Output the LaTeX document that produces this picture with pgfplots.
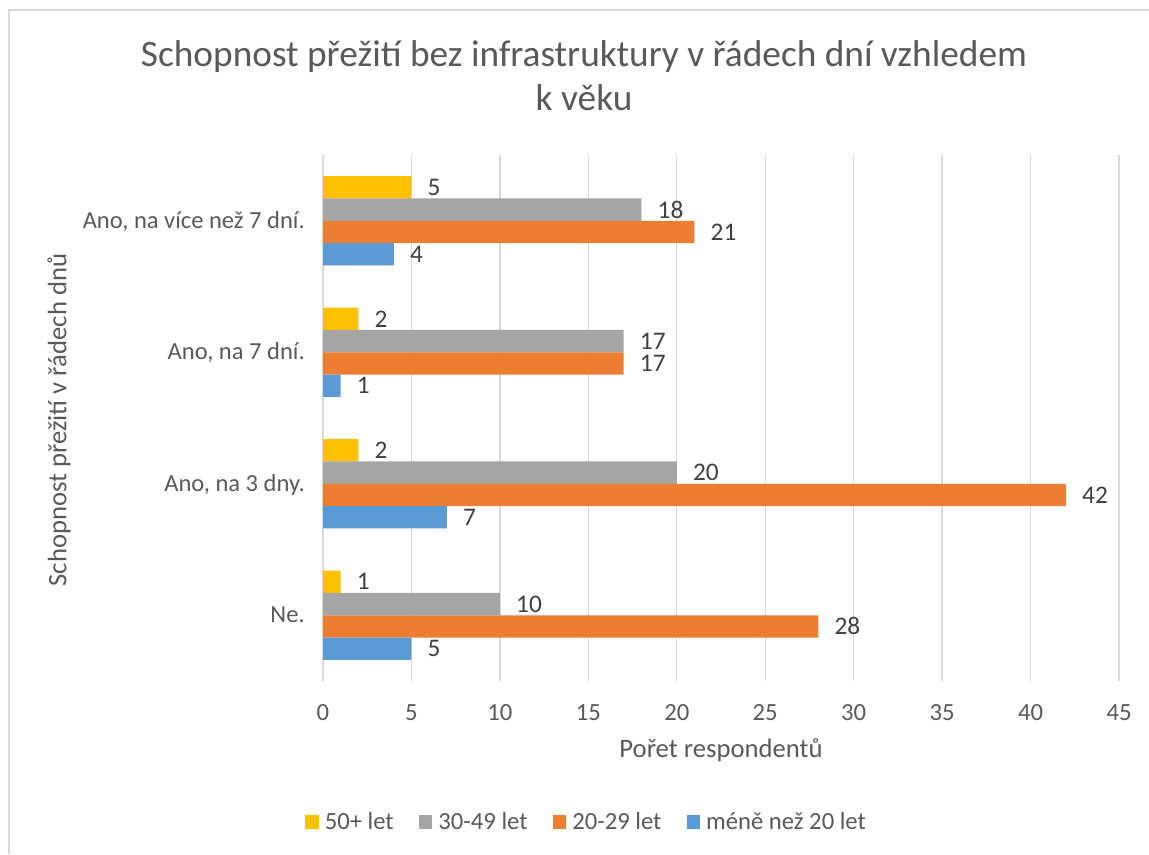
\documentclass[border=0pt]{standalone}
\usepackage{fontspec}
\setmainfont{Carlito}
\usepackage{pgfplots}
\pgfplotsset{compat=1.18}
\definecolor{cblue}{HTML}{5B9BD5}
\definecolor{corange}{HTML}{ED7D31}
\definecolor{cgray}{HTML}{A5A5A5}
\definecolor{cgold}{HTML}{FFC000}
\definecolor{gridc}{HTML}{D9D9D9}
\definecolor{txt}{HTML}{595959}
\definecolor{lbl}{HTML}{404040}
\pgfplotsset{sqleg/.style={legend image code/.code={\fill[##1] (0pt,-5pt) rectangle (10pt,5pt);}}}
\begin{document}
\begin{tikzpicture}
\path[use as bounding box] (0pt,0pt) rectangle (861.75pt,640.5pt);
\draw[gridc, line width=1.2pt] (6.75pt,0pt) -- (6.75pt,633pt) -- (861.75pt,633pt);
\node[anchor=base, text=txt, font=\fontsize{28}{33}\selectfont, inner sep=0pt] at (438pt,590.25pt) {Schopnost přežití bez infrastruktury v řádech dní vzhledem};
\node[anchor=base, text=txt, font=\fontsize{28}{33}\selectfont, inner sep=0pt] at (438pt,557.25pt) {k věku};
\begin{axis}[
  at={(242.25pt,129.75pt)}, anchor=south west,
  scale only axis, width=597pt, height=394.5pt,
  xbar, bar width=0.1696,
  xmin=0, xmax=45, ymin=-0.5, ymax=3.5,
  enlargelimits=false,
  axis line style={draw=none},
  major tick length=0pt,
  xtick={0,5,...,45},
  ytick={0,1,2,3},
  yticklabels={Ne., {Ano, na 3 dny.}, {Ano, na 7 dní.}, {Ano, na více než 7 dní.}},
  xmajorgrids, major grid style={gridc, line width=1pt},
  /pgf/number format/assume math mode=true,
  xticklabel style={font=\fontsize{18.5}{22}\selectfont, text=txt, anchor=base, inner sep=0pt, yshift=-29.25pt},
  yticklabel style={font=\fontsize{18.4}{22}\selectfont, text=txt, anchor=base east, inner sep=0pt, xshift=-13.5pt, yshift=-5.5pt},
  xlabel={Pořet respondentů},
  xlabel style={font=\fontsize{20}{24}\selectfont, text=txt, at={(axis description cs:0.5,-0.1445)}, anchor=base, inner sep=0pt},
  ylabel={Schopnost přežití v řádech dnů},
  ylabel style={font=\fontsize{20}{24}\selectfont, text=txt, at={(axis description cs:-0.3317,0.496)}, anchor=center, inner sep=0pt},
  point meta=x,
  nodes near coords,
  every node near coord/.append style={font=\fontsize{19}{22}\selectfont, text=lbl, anchor=west, inner sep=0pt, xshift=12pt},
  legend columns=4,
  legend style={draw=none, fill=none, at={(0.330,-0.268)}, anchor=center,
    font=\fontsize{18.5}{22}\selectfont, text=txt,
    nodes={inner sep=0pt},
    /tikz/every odd column/.append style={column sep=4.5pt},
    /tikz/every even column/.append style={column sep=19pt}},
]
\addplot[fill=cgold, draw=none, bar shift=0.2544, sqleg] coordinates {(1,0) (2,1) (2,2) (5,3)};
\addplot[fill=cgray, draw=none, bar shift=0.0848, sqleg] coordinates {(10,0) (20,1) (17,2) (18,3)};
\addplot[fill=corange, draw=none, bar shift=-0.0848, sqleg] coordinates {(28,0) (42,1) (17,2) (21,3)};
\addplot[fill=cblue, draw=none, bar shift=-0.2544, sqleg] coordinates {(5,0) (7,1) (1,2) (4,3)};
\legend{50+ let, 30-49 let, 20-29 let, méně než 20 let}
\end{axis}
\end{tikzpicture}
\end{document}
